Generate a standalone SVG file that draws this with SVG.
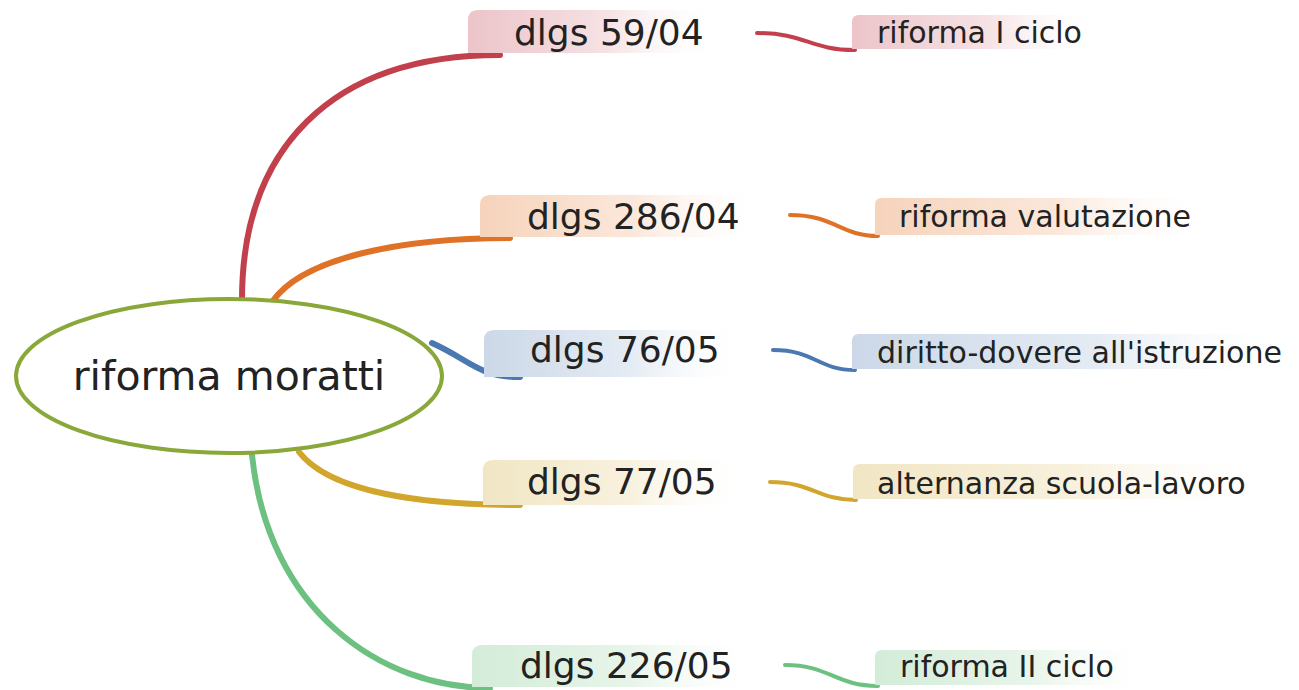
<svg xmlns="http://www.w3.org/2000/svg" width="1299" height="690" viewBox="0 0 1299 690">
<style>
.t{font-family:"DejaVu Sans","Verdana",sans-serif;fill:#222}
.main{font-size:36px}
.sub{font-size:30px}
.root{font-size:41px}
.m{fill:none;stroke-linecap:round;stroke-width:6}
.s{fill:none;stroke-linecap:round;stroke-width:4}
</style>
<defs>
<linearGradient id="fr" x1="0" y1="0" x2="1" y2="0"><stop offset="0" stop-color="#ecc4c9"/><stop offset="0.55" stop-color="#f6e2e4"/><stop offset="1" stop-color="#fff" stop-opacity="0"/></linearGradient>
<linearGradient id="fo" x1="0" y1="0" x2="1" y2="0"><stop offset="0" stop-color="#f6d3bb"/><stop offset="0.55" stop-color="#fbe8db"/><stop offset="1" stop-color="#fff" stop-opacity="0"/></linearGradient>
<linearGradient id="fb" x1="0" y1="0" x2="1" y2="0"><stop offset="0" stop-color="#ccd8e8"/><stop offset="0.55" stop-color="#e4ebf3"/><stop offset="1" stop-color="#fff" stop-opacity="0"/></linearGradient>
<linearGradient id="fy" x1="0" y1="0" x2="1" y2="0"><stop offset="0" stop-color="#f1e6c4"/><stop offset="0.55" stop-color="#f8f1de"/><stop offset="1" stop-color="#fff" stop-opacity="0"/></linearGradient>
<linearGradient id="fg" x1="0" y1="0" x2="1" y2="0"><stop offset="0" stop-color="#d3ecd8"/><stop offset="0.55" stop-color="#e8f5ea"/><stop offset="1" stop-color="#fff" stop-opacity="0"/></linearGradient>
<linearGradient id="lr" x1="0" y1="0" x2="1" y2="0"><stop offset="0" stop-color="#c2404c"/><stop offset="1" stop-color="#c2404c" stop-opacity="0"/></linearGradient>
<linearGradient id="lo" x1="0" y1="0" x2="1" y2="0"><stop offset="0" stop-color="#e07228"/><stop offset="1" stop-color="#e07228" stop-opacity="0"/></linearGradient>
<linearGradient id="lb" x1="0" y1="0" x2="1" y2="0"><stop offset="0" stop-color="#4a78b0"/><stop offset="1" stop-color="#4a78b0" stop-opacity="0"/></linearGradient>
<linearGradient id="ly" x1="0" y1="0" x2="1" y2="0"><stop offset="0" stop-color="#d2a62c"/><stop offset="1" stop-color="#d2a62c" stop-opacity="0"/></linearGradient>
<linearGradient id="lg" x1="0" y1="0" x2="1" y2="0"><stop offset="0" stop-color="#6cc080"/><stop offset="1" stop-color="#6cc080" stop-opacity="0"/></linearGradient>
</defs>
<rect width="1299" height="690" fill="#fff"/>

<g id="connectors">
<path class="m" d="M242,300 C242,150 330,55 500,55" stroke="#c2404c"/>
<path class="m" d="M272,302 C302,258 400,238 510,238" stroke="#e07228"/>
<path class="m" d="M432,343 C470,360 478,377 520,377" stroke="#4a78b0"/>
<path class="m" d="M299,452 C330,492 420,505 520,505" stroke="#d2a62c"/>
<path class="m" d="M252,455 C268,610 380,688 490,688" stroke="#6cc080"/>
<path class="s" d="M757,33 C805,33 810,50 855,50" stroke="#c2404c"/>
<path class="s" d="M790,215 C835,215 840,236 878,236" stroke="#e07228"/>
<path class="s" d="M773,350 C815,350 818,370 855,370" stroke="#4a78b0"/>
<path class="s" d="M770,482 C812,482 818,500 856,500" stroke="#d2a62c"/>
<path class="s" d="M785,665 C830,665 835,686 878,686" stroke="#6cc080"/>
</g>

<g id="root">
<ellipse cx="229" cy="376" rx="213" ry="77" fill="#fff" stroke="#8aa83a" stroke-width="4"/>
<text class="t root" x="229" y="390" text-anchor="middle">riforma moratti</text>
</g>

<g id="n1">
<path d="M468,53 V20 Q468,10 478,10 H722 V53 Z" fill="url(#fr)"/>
<line x1="490" y1="55" x2="722" y2="55" stroke="url(#lr)" stroke-width="3"/>
<text class="t main" x="514" y="45">dlgs 59/04</text>
</g>
<g id="c1">
<path d="M852,49 V22 Q852,15 859,15 H1100 V49 Z" fill="url(#fr)"/>
<line x1="852" y1="50" x2="1100" y2="50" stroke="url(#lr)" stroke-width="2.5"/>
<text class="t sub" x="877" y="43">riforma I ciclo</text>
</g>

<g id="n2">
<path d="M480,237 V205 Q480,195 490,195 H764 V237 Z" fill="url(#fo)"/>
<line x1="505" y1="238" x2="764" y2="238" stroke="url(#lo)" stroke-width="3"/>
<text class="t main" x="527" y="229">dlgs 286/04</text>
</g>
<g id="c2">
<path d="M875,235 V205 Q875,198 882,198 H1210 V235 Z" fill="url(#fo)"/>
<line x1="875" y1="236" x2="1210" y2="236" stroke="url(#lo)" stroke-width="2.5"/>
<text class="t sub" x="899" y="227">riforma valutazione</text>
</g>

<g id="n3">
<path d="M484,377 V340 Q484,330 494,330 H750 V377 Z" fill="url(#fb)"/>
<line x1="515" y1="377" x2="750" y2="377" stroke="url(#lb)" stroke-width="3"/>
<text class="t main" x="530" y="362">dlgs 76/05</text>
</g>
<g id="c3">
<path d="M852,369 V341 Q852,334 859,334 H1299 V369 Z" fill="url(#fb)"/>
<line x1="852" y1="370" x2="1299" y2="370" stroke="url(#lb)" stroke-width="2.5"/>
<text class="t sub" x="877" y="363">diritto-dovere all'istruzione</text>
</g>

<g id="n4">
<path d="M483,505 V470 Q483,460 493,460 H750 V505 Z" fill="url(#fy)"/>
<line x1="515" y1="505" x2="750" y2="505" stroke="url(#ly)" stroke-width="3"/>
<text class="t main" x="527" y="494">dlgs 77/05</text>
</g>
<g id="c4">
<path d="M853,499 V471 Q853,464 860,464 H1265 V499 Z" fill="url(#fy)"/>
<line x1="853" y1="500" x2="1265" y2="500" stroke="url(#ly)" stroke-width="2.5"/>
<text class="t sub" x="877" y="494">alternanza scuola-lavoro</text>
</g>

<g id="n5">
<path d="M472,687 V655 Q472,645 482,645 H764 V687 Z" fill="url(#fg)"/>
<line x1="485" y1="688" x2="764" y2="688" stroke="url(#lg)" stroke-width="3"/>
<text class="t main" x="520" y="678">dlgs 226/05</text>
</g>
<g id="c5">
<path d="M875,685 V657 Q875,650 882,650 H1160 V685 Z" fill="url(#fg)"/>
<line x1="875" y1="686" x2="1160" y2="686" stroke="url(#lg)" stroke-width="2.5"/>
<text class="t sub" x="900" y="677">riforma II ciclo</text>
</g>
</svg>
